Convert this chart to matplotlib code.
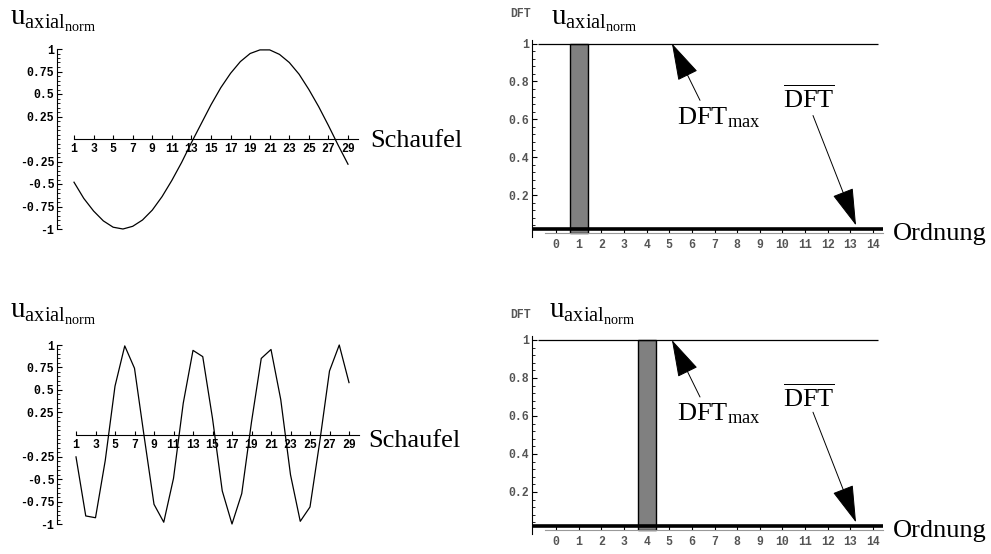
import matplotlib
matplotlib.use("Agg")
import matplotlib.pyplot as plt
from matplotlib.ticker import FixedLocator

# Werte
schaufel = list(range(1, 30))
u_ordnung1 = [-0.48, -0.66, -0.80, -0.91, -0.98, -1.00, -0.97, -0.90, -0.79, -0.64,
              -0.46, -0.26, -0.04, 0.17, 0.38, 0.57, 0.73, 0.86, 0.95, 0.99,
              0.99, 0.94, 0.85, 0.72, 0.55, 0.36, 0.15, -0.07, -0.28]
u_ordnung4 = [-0.25, -0.91, -0.93, -0.29, 0.54, 0.99, 0.74, -0.03, -0.78, -0.98,
              -0.49, 0.35, 0.94, 0.87, 0.18, -0.63, -1.00, -0.66, 0.14, 0.85,
              0.95, 0.39, -0.45, -0.97, -0.81, -0.08, 0.71, 1.00, 0.58]

ordnung = list(range(15))
dft_ordnung1 = [0, 1, 0, 0, 0, 0, 0, 0, 0, 0, 0, 0, 0, 0, 0]
dft_ordnung4 = [0, 0, 0, 0, 1, 0, 0, 0, 0, 0, 0, 0, 0, 0, 0]
dft_max = 1.0
dft_mittel = 0.02

u_ticks = [-1, -0.75, -0.5, -0.25, 0.25, 0.5, 0.75, 1]
u_ticklabels = ["-1", "-0.75", "-0.5", "-0.25", "0.25", "0.5", "0.75", "1"]
dft_ticks = [0.2, 0.4, 0.6, 0.8, 1]
dft_ticklabels = ["0.2", "0.4", "0.6", "0.8", "1"]

plt.rcParams['mathtext.fontset'] = 'custom'
plt.rcParams['mathtext.rm'] = 'Liberation Serif'
plt.rcParams['mathtext.it'] = 'Liberation Serif:italic'

W, H = 991, 554
fig = plt.figure(figsize=(W / 100, H / 100), dpi=100)

SERIF = 'Liberation Serif'
MONO = dict(family='Liberation Mono', weight='bold', size=8.3)
GROSS = 19


def achsen(xd, xp, yd, yp, xlim, ylim):
    # Achsen so legen, dass die Datenwerte auf die Pixel im Bild fallen
    sx = (xp[1] - xp[0]) / (xd[1] - xd[0])
    sy = (yp[1] - yp[0]) / (yd[1] - yd[0])
    links = xp[0] + (xlim[0] - xd[0]) * sx
    rechts = xp[0] + (xlim[1] - xd[0]) * sx
    oben = yp[0] + (ylim[1] - yd[0]) * sy
    unten = yp[0] + (ylim[0] - yd[0]) * sy
    ax = fig.add_axes([links / W, 1 - unten / H, (rechts - links) / W, (unten - oben) / H])
    ax.set_xlim(*xlim)
    ax.set_ylim(*ylim)
    ax.patch.set_visible(False)
    ax.spines['top'].set_visible(False)
    ax.spines['right'].set_visible(False)
    return ax


def text_px(x, y, s, **kw):
    fig.text(x / W, 1 - y / H, s, va='baseline', ha='left', **kw)


def welle(ax, werte, yachse_x):
    ax.plot(schaufel, werte, color='black', lw=0.9)
    ax.spines['left'].set_position(('data', yachse_x))
    ax.spines['left'].set_bounds(-1, 1)
    ax.spines['bottom'].set_position(('data', 0))
    ax.spines['bottom'].set_bounds(1, 30)
    ax.set_xticks(schaufel[::2])
    ax.set_xticklabels([str(s) for s in schaufel[::2]], fontdict=MONO)
    ax.set_yticks(u_ticks)
    ax.set_yticklabels(u_ticklabels, fontdict=MONO)
    ax.yaxis.set_minor_locator(FixedLocator([i * 0.05 for i in range(-20, 21)]))
    ax.tick_params(axis='x', direction='in', length=3, width=0.8, pad=3)
    ax.tick_params(axis='y', which='major', direction='in', length=3.5, width=0.8, pad=2)
    ax.tick_params(axis='y', which='minor', direction='in', length=1.8, width=0.6)


def spektrum(ax, werte):
    ax.bar(ordnung, werte, width=0.8, color='#808080',
           edgecolor=['black' if v > 0 else 'none' for v in werte], lw=1, zorder=2)
    ax.hlines(dft_max, -0.8, 14.2, color='black', lw=0.9, zorder=3)
    ax.hlines(dft_mittel, -1.02, 14.45, color='black', lw=2.6, zorder=4)
    ax.spines['left'].set_position(('data', -1.06))
    ax.spines['left'].set_bounds(-0.02, 1.02)
    ax.spines['bottom'].set_position(('data', 0))
    ax.spines['bottom'].set_bounds(-0.5, 14.45)
    ax.spines['bottom'].set_color('#999999')
    ax.set_xticks(ordnung)
    ax.set_xticklabels([str(o) for o in ordnung], fontdict=MONO, color='#555555')
    ax.set_yticks(dft_ticks)
    ax.set_yticklabels(dft_ticklabels, fontdict=MONO, color='#555555')
    ax.yaxis.set_minor_locator(FixedLocator([i * 0.04 for i in range(1, 26)]))
    ax.tick_params(axis='x', direction='in', length=3, width=0.8, pad=4)
    ax.tick_params(axis='y', which='major', direction='in', length=3.5, width=0.8, pad=2)
    ax.tick_params(axis='y', which='minor', direction='in', length=1.8, width=0.6)
    pfeil = dict(arrowstyle='-|>,head_length=2.4,head_width=0.7', mutation_scale=10,
                 lw=0.7, color='black', shrinkA=0, shrinkB=0)
    ax.annotate('', xy=(5.12, 1.0), xytext=(6.36, 0.70), arrowprops=pfeil)
    ax.annotate('', xy=(13.25, 0.04), xytext=(11.35, 0.62), arrowprops=pfeil)


u_label = r'$\mathrm{u}_{\mathrm{axial}_{\mathrm{norm}}}$'
U_GROSS = 21

# oben links
ax1 = achsen((1, 29), (74, 348), (-1, 1), (229, 49), (-1.5, 31), (-1.1, 1.1))
welle(ax1, u_ordnung1, -0.74)
text_px(10, 25, u_label, fontsize=U_GROSS)
text_px(370, 147, 'Schaufel', family=SERIF, fontsize=GROSS)

# unten links
ax3 = achsen((1, 29), (76, 349), (-1, 1), (524, 345), (-1.5, 31), (-1.1, 1.1))
welle(ax3, u_ordnung4, -0.95)
text_px(10, 318, u_label, fontsize=U_GROSS)
text_px(368, 447, 'Schaufel', family=SERIF, fontsize=GROSS)

# oben rechts
ax2 = achsen((0, 14), (556, 873), (0, 1), (233, 43.5), (-1.5, 16), (-0.1, 1.1))
spektrum(ax2, dft_ordnung1)
text_px(510, 17, 'DFT', color='#555555', **MONO)
text_px(551, 25, u_label, fontsize=U_GROSS)
text_px(893, 240, 'Ordnung', family=SERIF, fontsize=GROSS)
text_px(677, 124, r'$\mathrm{DFT}_{\mathrm{max}}$', fontsize=GROSS)
text_px(783, 108, r'$\overline{\mathrm{DFT}}$', fontsize=GROSS)

# unten rechts
ax4 = achsen((0, 14), (556, 873), (0, 1), (530, 340), (-1.5, 16), (-0.1, 1.1))
spektrum(ax4, dft_ordnung4)
text_px(510, 318, 'DFT', color='#555555', **MONO)
text_px(549, 318, u_label, fontsize=U_GROSS)
text_px(893, 537, 'Ordnung', family=SERIF, fontsize=GROSS)
text_px(677, 420, r'$\mathrm{DFT}_{\mathrm{max}}$', fontsize=GROSS)
text_px(783, 407, r'$\overline{\mathrm{DFT}}$', fontsize=GROSS)

fig.savefig('out.png', dpi=100)
